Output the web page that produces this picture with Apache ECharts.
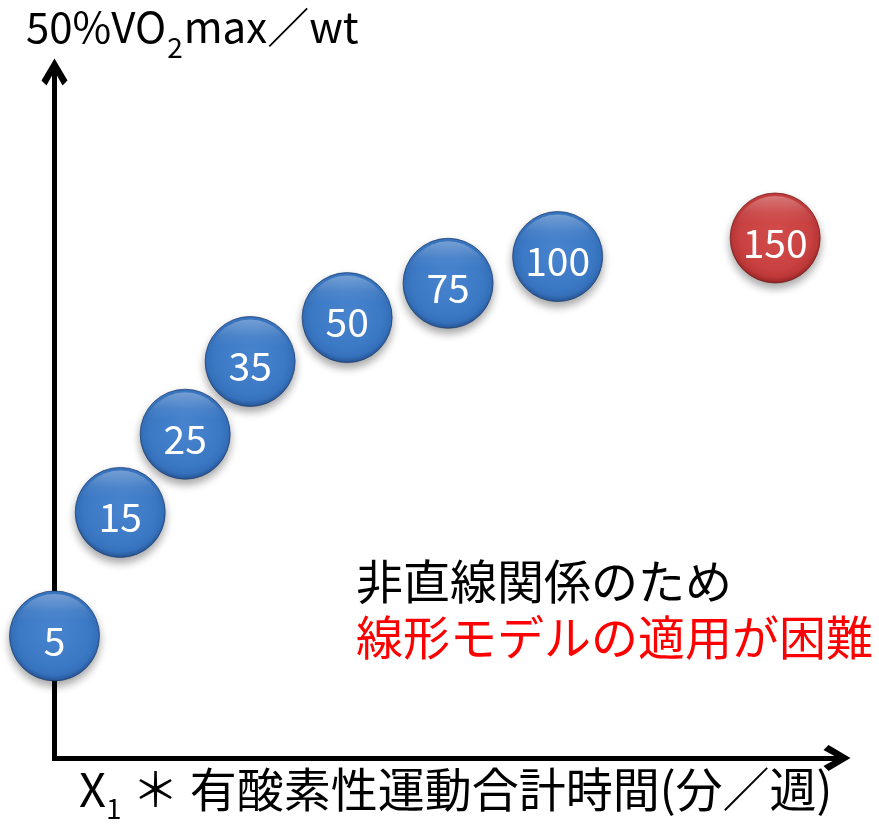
<!DOCTYPE html>
<html>
<head>
<meta charset="utf-8">
<script src="https://cdn.jsdelivr.net/npm/echarts@6/dist/echarts.min.js"></script>
<style>
  html, body { margin: 0; padding: 0; background: #ffffff; }
  #chart { width: 879px; height: 827px; }
</style>
</head>
<body>
<div id="chart"></div>
<script>
// Weekly aerobic exercise levels (minutes/week), plotted as labelled bubbles
const levels = ['5', '15', '25', '35', '50', '75', '100', '150'];
// Schematic position of each level on the two axes (0–100 scale)
const xPos = [0, 8.4, 16.7, 25.0, 37.4, 50.3, 64.3, 92.1];
const yPos = [17.8, 35.8, 47.2, 57.8, 64.2, 69.2, 73.1, 75.8];
// Levels drawn in red (outside the linear range)
const redLevels = ['150'];

const yAxisTitle = ['50%VO', '2', 'max／wt'];
const xAxisTitle = ['X', '1', ' ＊ 有酸素性運動合計時間(分／週)'];
const noteLines = ['非直線関係のため', '線形モデルの適用が困難'];

const FONT = '"Noto Sans CJK JP", "Noto Sans", sans-serif';

const blueFill = {
  type: 'radial', x: 0.5, y: 0.45, r: 0.56,
  colorStops: [
    { offset: 0, color: '#4884ce' },
    { offset: 0.7, color: '#3c79c5' },
    { offset: 0.86, color: '#3571bc' },
    { offset: 1, color: '#254f8c' }
  ]
};
const redFill = {
  type: 'radial', x: 0.5, y: 0.45, r: 0.56,
  colorStops: [
    { offset: 0, color: '#d24c4c' },
    { offset: 0.7, color: '#c94141' },
    { offset: 0.86, color: '#bd3838' },
    { offset: 1, color: '#8c2222' }
  ]
};
const gloss = {
  type: 'linear', x: 0, y: 0, x2: 0, y2: 1,
  colorStops: [
    { offset: 0, color: 'rgba(255,255,255,0.30)' },
    { offset: 0.2, color: 'rgba(255,255,255,0.06)' },
    { offset: 0.32, color: 'rgba(255,255,255,0)' },
    { offset: 1, color: 'rgba(255,255,255,0)' }
  ]
};

const points = levels.map((lv, i) => ({
  value: [xPos[i], yPos[i]],
  name: lv,
  itemStyle: {
    color: redLevels.includes(lv) ? redFill : blueFill,
    borderColor: redLevels.includes(lv) ? 'rgba(110,20,20,0.7)' : 'rgba(25,55,105,0.7)'
  }
}));

// Open chevron arrowhead, pointing along the axis
const chevron = 'path://M13,0 L26,22 L21,27 L13,12.5 L5,27 L0,22 Z';

const chart = echarts.init(document.getElementById('chart'), null, { renderer: 'canvas' });
chart.setOption({
  animation: false,
  backgroundColor: '#ffffff',
  title: {
    left: 21, top: 0,
    text: '{t|' + yAxisTitle[0] + '}{s|' + yAxisTitle[1] + '}{t|' + yAxisTitle[2] + '}',
    textStyle: {
      rich: {
        t: { fontFamily: FONT, fontSize: 42, lineHeight: 44, color: '#000', fontWeight: 'normal' },
        s: { fontFamily: FONT, fontSize: 28, lineHeight: 20, color: '#000', fontWeight: 'normal',
             padding: [40, 1, 0, 1] }
      }
    }
  },
  grid: { left: 54.5, right: 42, top: 72, bottom: 67.5 },
  xAxis: {
    type: 'value', min: 0, max: 100,
    axisLine: {
      onZero: false,
      symbol: ['none', chevron], symbolSize: [26, 30],
      lineStyle: { color: '#000', width: 5, cap: 'square' }
    },
    axisTick: { show: false }, axisLabel: { show: false }, splitLine: { show: false },
    name: '{x|' + xAxisTitle[0] + '}{s|' + xAxisTitle[1] + '}{x|' + xAxisTitle[2] + '}',
    nameLocation: 'middle', nameGap: 7,
    nameTextStyle: {
      padding: [0, 0, 0, 20],
      rich: {
        x: { fontFamily: FONT, fontSize: 47, lineHeight: 48, color: '#000' },
        s: { fontFamily: FONT, fontSize: 28, lineHeight: 20, color: '#000', padding: [38, 0, 0, 0] }
      }
    }
  },
  yAxis: {
    type: 'value', min: 0, max: 100,
    axisLine: {
      onZero: false,
      symbol: ['none', chevron], symbolSize: [26, 30],
      lineStyle: { color: '#000', width: 5, cap: 'square' }
    },
    axisTick: { show: false }, axisLabel: { show: false }, splitLine: { show: false }
  },
  series: [
    {
      type: 'scatter', clip: false, z: 3,
      symbol: 'circle', symbolSize: 90,
      itemStyle: {
        opacity: 1, borderWidth: 1,
        shadowBlur: 9, shadowOffsetY: 5, shadowColor: 'rgba(0,0,0,0.35)'
      },
      label: {
        show: true, position: 'inside', offset: [0, 5],
        formatter: p => p.name,
        fontFamily: FONT, fontSize: 39, color: '#ffffff'
      },
      data: points
    },
    {
      // glossy top highlight on each bubble
      type: 'scatter', clip: false, z: 4, silent: true,
      symbol: 'circle', symbolSize: 84,
      itemStyle: { color: gloss, opacity: 1 },
      data: levels.map((lv, i) => [xPos[i], yPos[i]])
    }
  ],
  graphic: [
    { type: 'text', left: 356, top: 558,
      style: { text: noteLines[0], font: '47px ' + FONT, fill: '#000000' } },
    { type: 'text', left: 356, top: 614,
      style: { text: noteLines[1], font: '47px ' + FONT, fill: '#ff0000' } }
  ]
});
</script>
</body>
</html>
